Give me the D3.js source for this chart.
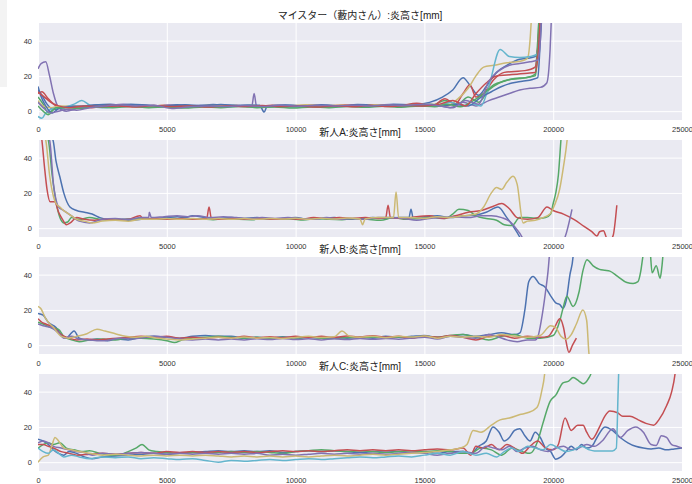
<!DOCTYPE html>
<html>
<head>
<meta charset="utf-8">
<script src="https://cdn.jsdelivr.net/npm/d3@7"></script>
<style>
  body { margin: 0; background: #fff; }
  text { font-family: "Liberation Sans", Arial, "Noto Sans CJK JP", sans-serif; }
</style>
</head>
<body>
<div id="chart"></div>
<script>
// tick values and panel titles
const xTicks = [0, 5000, 10000, 15000, 20000, 25000];
const yTicks = [0, 20, 40];
const titles = ["マイスター（藪内さん）:炎高さ[mm]", "新人A:炎高さ[mm]", "新人B:炎高さ[mm]", "新人C:炎高さ[mm]"];

// マイスター: 10 runs, [distance, flame height]
const meister = [
  [[0,12],[150,9],[350,4],[600,1],[900,2],[1300,3],[1700,2.5],[2200,3.5],[2800,4],[3400,3],[4000,3.5],[4700,2.8],[5400,3.6],[6100,3],[6800,3.8],[7500,3.2],[8200,3.5],[8900,2.8],[9600,3.4],[10300,3],[11000,3.6],[11700,3],[12400,3.8],[13100,3.4],[13800,4],[14500,3.6],[15200,5],[15700,8],[16100,12],[16500,19],[16800,14],[17100,9],[17400,14],[17800,22],[18200,26],[18600,29],[19000,30],[19300,31],[19450,40],[19550,60]],
  [[0,8],[200,4],[400,-1],[600,1],[900,2.5],[1400,2],[2000,3],[2700,2.5],[3300,3.2],[4000,2.6],[4800,3],[5500,2.4],[6200,3],[6900,2.5],[7600,3.2],[8300,2.6],[9000,3],[9700,2.4],[10400,3],[11100,2.6],[11800,3.2],[12500,2.8],[13200,3.4],[13900,2.8],[14600,4],[15300,3.5],[15800,6],[16300,4],[16700,8],[17100,5],[17500,12],[17900,16],[18300,18],[18700,18.5],[19100,19.5],[19300,21],[19400,40],[19480,60]],
  [[0,10],[150,11],[400,7],[700,3],[1000,2],[1500,2.5],[2100,2],[2800,3.5],[3500,3],[4200,2.6],[4900,3.4],[5600,2.8],[6300,3],[7000,2.6],[7700,3.2],[8400,2.7],[9100,3.3],[9800,2.8],[10500,3.4],[11200,2.9],[11900,3.5],[12600,3],[13300,3.6],[14000,3],[14700,4.5],[15300,3],[15800,7],[16200,4],[16500,10],[16770,15],[17000,8],[17300,10],[17700,18],[18100,22],[18500,22.5],[18900,23],[19300,25],[19420,40],[19500,60]],
  [[0,24],[120,27],[300,28],[450,20],[600,10],[800,2],[1100,0],[1500,1.5],[2100,2.5],[2700,3],[3300,4],[3900,3],[4500,2.5],[5100,3.5],[5700,2.8],[6300,3.2],[7000,2.6],[7700,3],[8300,2.8],[8390,10],[8480,3],[9100,2.6],[9800,3.2],[10500,2.8],[11200,3.4],[11900,2.8],[12600,3.4],[13300,2.9],[14000,3.6],[14700,3],[15400,3.5],[16000,2],[16500,5],[17000,3],[17500,6],[17900,8],[18300,10],[18700,12],[19100,13],[19500,13.5],[19750,16],[19880,35],[19950,60]],
  [[0,6],[200,3],[500,2],[900,3],[1400,2.6],[2000,3],[2700,2.4],[3400,3],[4100,2.8],[4800,3.2],[5500,2.5],[6200,3],[6900,3.4],[7600,2.8],[8300,3.2],[9000,2.6],[9700,3],[10400,3.6],[11100,3],[11800,3.4],[12500,2.8],[13200,3.6],[13900,3],[14600,3.4],[15300,4],[15900,3],[16300,7],[16700,13],[17000,20],[17300,25],[17700,26],[18200,27.5],[18600,28],[19000,30],[19100,40],[19180,60]],
  [[0,-3],[150,-4],[300,-1],[600,1.5],[1000,2],[1400,4],[1700,6],[2000,3.5],[2500,2],[3100,2.5],[3700,3],[4400,2.4],[5100,2.8],[5800,2.2],[6500,2.8],[7200,2.4],[7900,3],[8600,2.2],[9300,2.8],[10000,2.2],[10700,2.8],[11400,2.4],[12100,3],[12800,2.5],[13500,3],[14200,2.6],[14900,3.5],[15500,3],[16000,5],[16500,3],[16900,4],[17200,3],[17500,14],[17940,35],[18300,31],[18700,30.5],[19100,31],[19350,32],[19500,45],[19600,60]],
  [[0,14],[100,9],[300,3],[550,-1],[800,1.5],[1200,2.5],[1800,3],[2400,3.6],[3000,3.2],[3600,4],[4300,3.4],[5000,3],[5700,3.6],[6400,3.2],[7100,3.8],[7800,3.1],[8600,3.4],[8780,-0.5],[8900,3],[9600,3.5],[10300,2.9],[11000,3.3],[11700,2.8],[12400,3.5],[13100,3],[13800,3.6],[14500,3],[15200,4],[15700,3],[16200,4],[16700,3],[17200,8],[17600,11],[18000,14],[18400,16],[18800,17],[19200,18],[19400,19],[19500,40],[19580,60]],
  [[0,3],[200,0],[400,-2],[700,2],[1100,2],[1600,1.5],[2200,2.5],[2900,2],[3600,2.6],[4300,2],[5000,2.4],[5700,1.8],[6400,2.4],[7100,2],[7800,2.6],[8500,2],[9200,2.4],[9900,1.8],[10600,2.4],[11300,2],[12000,2.6],[12700,2.2],[13400,2.8],[14100,2.2],[14800,3],[15400,2.5],[15900,4],[16400,2.5],[16900,6],[17300,10],[17700,15],[18100,17],[18500,18.5],[18900,19],[19300,20],[19400,35],[19460,60]],
  [[0,11],[250,8],[500,5],[800,3],[1200,2],[1800,3],[2400,2.5],[3100,3],[3800,2.4],[4500,3.2],[5200,2.6],[5900,3],[6600,2.4],[7300,3],[8000,2.6],[8700,3.2],[9400,2.6],[10100,3],[10800,2.4],[11500,3],[12200,2.5],[12900,3.2],[13600,2.6],[14300,3.2],[15000,3],[15600,4],[16100,6],[16600,3],[17000,10],[17400,16],[17800,20],[18200,20.5],[18600,21],[19000,21.5],[19300,22],[19450,40],[19520,60]],
  [[0,5],[200,2],[500,-1],[800,0],[1100,1],[1500,0.5],[2000,2],[2600,3],[3200,3.6],[3800,3],[4500,3.4],[5200,1.5],[5900,2.5],[6600,3],[7300,2.6],[8000,3.2],[8700,2.7],[9400,3.3],[10100,2.8],[10800,3.4],[11500,2.9],[12200,3.4],[12900,3],[13600,3.6],[14300,3.2],[15000,4],[15600,3],[16100,2],[16600,6],[17100,4],[17500,17],[17900,23],[18300,26],[18700,27],[19100,28],[19400,29],[19500,40],[19560,60]]
];

// 新人A: 5 runs
const shinjinA = [
  [[0,60],[580,50],[700,38],[850,29],[1000,20],[1240,12],[1500,10],[1800,9],[2100,8],[2400,6],[2700,5],[3000,5],[3500,4.5],[4000,5],[4500,5.5],[5000,6],[5400,6.5],[5700,6],[6000,7],[6500,6],[7000,5.5],[7500,6],[8000,5.5],[8500,6],[9000,5],[9500,5.5],[10000,6],[10500,5],[11000,5.5],[11500,6],[12000,5],[12500,5.5],[13000,6],[13500,5.5],[14000,6],[14400,6],[14480,10.7],[14560,6],[15000,6.5],[15500,7],[16000,6],[16500,7],[17000,7.5],[17400,9],[17860,12],[18200,6],[18450,1],[18700,-5],[18800,-8]],
  [[0,60],[400,50],[550,30],[700,15],[850,6],[1000,3],[1150,3.5],[1300,6],[1600,5],[2000,6],[2400,5],[2800,4.5],[3300,5],[3800,5.5],[4300,5],[4800,5],[5300,5.5],[5800,5],[6300,5.2],[6800,4.8],[7300,5.5],[7800,5],[8300,4.8],[8800,5.5],[9300,5],[9800,5.2],[10300,4.6],[10800,5.5],[11300,5],[11800,4.8],[12300,5.5],[12800,5],[13300,4.5],[13800,6],[14300,5],[14800,5.5],[15300,6],[15800,5.5],[16100,8],[16340,10.7],[16700,10],[17000,7],[17400,5.5],[17800,4.5],[18100,2],[18400,1.5],[18700,6],[19000,6],[19400,5.5],[19700,6],[19900,8],[20000,14],[20100,20],[20200,30],[20300,50],[20350,60]],
  [[0,60],[150,50],[250,35],[350,22],[470,15],[650,15],[800,9],[950,5],[1100,2],[1250,3],[1500,6],[1800,5],[2200,4.5],[2600,5],[3000,4.5],[3500,5],[3960,7],[4100,5],[4600,5.5],[5100,5],[5600,5.5],[6100,5],[6550,5.5],[6640,12],[6730,5.5],[7200,5],[7700,5.5],[8200,5],[8700,5.5],[9200,5],[9700,5.5],[10200,5],[10700,6],[11200,5.5],[11700,6],[12200,5.5],[12700,6],[13200,5.5],[13500,6],[13590,13],[13680,6],[14200,5.5],[14700,6.5],[15200,7],[15700,5.5],[16200,7],[16700,9],[17200,10],[17600,12],[18000,14],[18300,11],[18600,6],[19000,5],[19400,6],[19760,12],[20000,10],[20400,8],[20800,5],[21200,1],[21500,-2],[21700,-4.5],[21800,-2],[21950,-1.5],[22100,-6],[22250,-6],[22330,-4],[22470,13]],
  [[0,60],[450,50],[600,25],[800,12],[1000,10],[1300,7],[1600,4],[2000,3],[2500,5],[3000,5.5],[3500,5],[4000,6],[4300,6],[4320,9],[4400,6],[4900,6.5],[5400,7],[5800,6.5],[6200,7],[6700,6],[7200,6.5],[7700,6],[8200,5.5],[8700,6],[9200,5.5],[9700,6],[10200,5.5],[10700,5],[11200,6],[11700,5],[12200,5.5],[12700,5],[13200,6],[13700,6],[14200,5.5],[14700,4.5],[15200,5.5],[15700,6],[16200,6.5],[16700,6],[17200,7],[17600,7],[18000,6],[18300,4],[18550,0],[18790,-5],[18850,-7],[19000,null],[20400,-7],[20460,-5],[20730,10.7]],
  [[0,60],[300,50],[450,30],[600,18],[700,14],[850,12],[1000,10],[1200,8],[1500,5],[1800,4],[2100,3],[2500,4],[3000,4.5],[3500,4],[4000,5],[4500,5],[5000,5.5],[5500,5],[6000,5.5],[6500,5],[7000,5.5],[7500,5],[8000,5.5],[8500,5],[9000,5.5],[9500,5.2],[10000,5.6],[10500,5],[11000,5.6],[11500,5.2],[12000,5.8],[12500,5.2],[12600,2],[12700,5.2],[13200,6],[13800,6],[13900,20.5],[14000,6],[14500,6],[15000,5.5],[15500,6.5],[16000,6],[16500,7],[17000,8],[17300,12],[17600,20],[17800,23],[18000,22],[18200,26],[18440,29.5],[18600,25],[18830,3],[19000,4],[19300,4.5],[19600,6],[19870,8],[20050,13],[20250,22],[20400,35],[20540,50],[20600,60]]
];

// 新人B: 5 runs
const shinjinB = [
  [[0,18],[200,17],[400,13],[700,10],[900,6],[1100,4],[1300,7],[1400,8],[1600,4],[1900,3],[2300,3.5],[2700,2.5],[3100,3.5],[3500,3],[4000,4.5],[4500,5],[5000,4.5],[5500,4],[6000,5],[6500,5.5],[7000,5],[7500,5],[8000,4],[8500,4.5],[9000,4],[9500,4.8],[10000,4.2],[10500,4.6],[11000,4],[11500,4.5],[12000,4],[12500,4.6],[13000,4],[13500,5],[14000,4.5],[14500,5],[15000,5.5],[15500,4.5],[16000,5],[16500,6],[17000,5],[17500,6],[18000,7],[18500,6],[18710,7],[18900,20],[19050,36],[19220,39],[19450,35],[19680,33],[19900,28],[20100,24],[20260,23],[20380,21],[20500,25],[20650,40],[20770,50],[20820,60]],
  [[0,13],[200,12],[500,10],[800,9],[1000,5],[1300,3],[1600,2],[2000,3],[2500,3.5],[3000,3],[3500,4],[4000,4],[4500,3.5],[5000,2.5],[5300,1.5],[5600,3],[6000,4],[6500,4.5],[7000,5],[7500,4.5],[8000,4],[8500,4.5],[9000,4],[9500,4.5],[10000,3.5],[10500,4.5],[11000,4],[11500,3.8],[12000,4.4],[12500,4],[13000,4.6],[13500,4],[14000,4.6],[14500,4.4],[15000,5],[15500,4.5],[16000,5.5],[16500,6],[17000,4.5],[17500,3],[18000,5],[18500,6],[19000,4],[19500,4],[20000,5.5],[20260,14],[20400,22],[20530,27.8],[20770,22],[21000,30],[21150,42],[21310,48.5],[21550,45],[21800,43],[22000,42.5],[22200,42],[22500,39],[22860,35.5],[23100,35],[23290,36],[23400,42],[23490,51],[23600,58],[23750,55],[23840,41],[24000,45],[24150,38],[24200,42],[24260,51],[24300,60]],
  [[0,15],[150,13],[300,12],[600,10],[900,6],[1200,4],[1500,3],[1900,3.5],[2300,3],[2700,3.5],[3100,4],[3500,4.5],[4000,5],[4500,4.5],[5000,5],[5500,4],[6000,4.5],[6500,4],[7000,4.5],[7500,4],[8000,5],[8500,4.2],[9000,4.8],[9500,4.2],[10000,5],[10500,4.4],[11000,5],[11500,4.4],[12000,5.2],[12500,4.6],[13000,5.4],[13500,4.5],[14000,5],[14500,4],[15000,5],[15500,4.5],[16000,5.5],[16500,4.5],[17000,3],[17500,5],[18000,5.5],[18500,4],[19000,5],[19500,4.5],[19800,5],[20050,10],[20260,15],[20400,10],[20500,2],[20610,-4],[20750,0],[20900,4]],
  [[0,12],[200,11],[500,10],[800,7],[1000,4],[1300,5],[1600,3.5],[2000,3],[2400,2.5],[2800,3],[3200,4],[3600,3.5],[4000,4],[4500,5],[5000,4.5],[5500,3.5],[6000,3],[6500,3.5],[7000,3],[7500,3.5],[8000,3],[8500,3.6],[9000,3.2],[9500,3.8],[10000,3.2],[10500,3.6],[11000,3],[11500,3.6],[12000,3.2],[12500,3.8],[13000,3.3],[13500,3.8],[14000,3.4],[14500,4],[15000,4.5],[15500,3.5],[16000,5],[16500,4.5],[17000,4],[17500,6],[17800,5],[18200,3],[18600,2],[19000,3],[19300,3],[19410,5],[19550,15],[19700,30],[19800,42],[19880,55],[19950,60]],
  [[0,22],[100,21],[300,15],[600,10],[900,5],[1200,4],[1500,5],[1900,6.5],[2290,9],[2600,8],[3000,6.5],[3400,5],[3800,4.5],[4200,5],[4600,4],[5000,3.5],[5500,3],[6000,3.5],[6500,4],[7000,4.5],[7500,4],[8000,4.6],[8500,4],[9000,4.4],[9500,3.8],[10000,4.4],[10500,5],[11000,4.4],[11500,4.8],[11800,8],[12100,5],[12500,4.5],[13000,5],[13500,4.2],[14000,5],[14500,4.6],[15000,5.2],[15500,4],[16000,5],[16500,4.5],[17000,5],[17500,4.5],[18000,6],[18500,5],[19000,4.5],[19500,5.5],[19900,11],[20100,10],[20300,5],[20500,3.4],[20700,6],[20900,12],[21150,20],[21300,14],[21390,-5],[21420,-8]]
];

// 新人C: 6 runs
const shinjinC = [
  [[0,13],[200,12],[400,10],[600,7],[800,5],[1000,4],[1200,6],[1500,5],[1800,3],[2100,2],[2500,3],[3000,3.5],[3500,4],[4000,4.5],[4500,5],[5000,4.5],[5500,5],[6000,5.5],[6500,6],[7000,6.5],[7500,6],[8000,6.5],[8500,6],[9000,6.5],[9500,5.5],[10000,6],[10500,6.5],[11000,6],[11500,6.5],[12000,6],[12500,5.5],[13000,6],[13500,6.5],[14000,6],[14500,5.5],[15000,6],[15500,5],[16000,6],[16500,6],[16800,5],[17100,9],[17400,12],[17660,20],[17900,17],[18100,12],[18300,14],[18500,18],[18700,19],[18900,15],[19100,12],[19300,17],[19500,14],[19700,8],[19900,6],[20100,1.7],[20300,3],[20500,6],[20700,9],[20900,7],[21100,10],[21300,8],[21500,9],[21700,14],[22010,20],[22300,18],[22600,14],[22900,11],[23200,9],[23500,8],[23800,7.5],[24100,8],[24400,7],[24700,7.5],[25000,8]],
  [[0,8],[200,10],[400,11],[600,10],[850,11],[1100,8],[1400,7],[1700,6],[2000,6.5],[2400,5],[2800,4],[3200,4.5],[3500,6],[3800,8],[4040,10],[4300,7],[4600,6],[5000,5.5],[5500,5],[6000,5.5],[6500,5],[7000,5.5],[7500,6],[8000,5.5],[8500,6],[9000,5.5],[9500,5],[10000,6],[10500,6.5],[11000,7],[11500,6.5],[12000,6],[12500,6.5],[13000,6],[13500,5.5],[14000,6],[14500,6.5],[15000,6],[15500,6.5],[16000,6],[16400,5],[16800,5],[17200,8],[17600,7],[18000,4],[18400,8],[18800,6],[19100,5],[19400,12],[19600,22],[19880,34.5],[20100,38],[20380,45],[20600,46],[20770,48],[21000,46],[21160,44.5],[21350,47],[21500,52],[21550,60]],
  [[0,10],[200,10],[400,9],[600,8],[900,6],[1200,5],[1500,4],[2000,4.5],[2500,5],[3000,4.5],[3500,5],[4000,5.5],[4500,5],[5000,6],[5500,5.5],[6000,6],[6500,5.5],[7000,6],[7500,5.5],[8000,6],[8500,5.5],[9000,6],[9500,6.5],[10000,6],[10500,6.5],[11000,6],[11500,6.5],[12000,7],[12500,6.5],[13000,7],[13500,6.5],[14000,7],[14500,6.5],[15000,7],[15500,7.5],[16000,7],[16500,8],[16800,4],[17000,9],[17300,8],[17600,10],[17900,7],[18200,10],[18500,8],[18800,5],[19100,9],[19400,12],[19700,8],[20000,7],[20200,10],[20460,25],[20700,18],[20950,21],[21160,21],[21300,17],[21500,13],[21800,20],[22000,26],[22200,29],[22500,28],[22700,26],[22980,26],[23300,24],[23600,22],[23900,21],[24100,24],[24400,32],[24600,40],[24730,50],[24800,60]],
  [[0,11],[200,12],[400,11],[600,9],[900,8],[1200,7],[1500,6],[1800,5.5],[2100,4],[2500,5],[3000,4.5],[3500,5],[4000,5.5],[4500,5],[5000,4.5],[5500,5],[6000,4.5],[6500,5],[7000,4.5],[7500,5],[8000,4.5],[8500,5],[9000,4],[9500,4.5],[10000,4],[10500,4.5],[11000,5],[11500,4.5],[12000,5],[12500,4.5],[13000,5],[13500,4.5],[14000,5],[14500,5.5],[15000,5],[15500,4],[16000,5],[16500,6],[17000,5],[17400,9],[17700,8],[18000,7],[18300,9],[18600,6],[18900,8],[19200,9],[19500,7],[19800,6],[20100,8],[20400,9],[20700,7],[21000,8],[21300,10],[21600,9],[21900,12],[22320,19],[22600,14],[22900,18],[23200,20],[23500,17],[23800,10],[24000,9.5],[24200,15],[24400,14],[24600,10],[24800,9],[25000,8]],
  [[0,0],[200,3],[400,4],[550,10],[660,14],[800,12],[1000,8],[1300,7],[1600,6],[2000,5],[2500,4],[3000,4.5],[3500,4],[4000,3.5],[4500,4],[5000,3.5],[5500,4],[6000,3.5],[6500,4],[7000,3.5],[7500,3],[8000,3.5],[8500,3],[9000,3.5],[9500,3],[10000,3.5],[10500,3],[11000,3.5],[11500,4],[12000,3.5],[12500,4],[13000,4.5],[13500,4],[14000,4.5],[14500,5],[15000,5.5],[15500,6],[16000,7],[16400,8],[16650,10],[16890,18],[17200,17],[17600,21],[17940,24],[18300,25],[18710,27],[19000,28],[19370,31],[19550,40],[19680,52],[19720,60]],
  [[0,8],[200,6],[400,5],[600,7],[800,5],[1000,3],[1300,4],[1600,3],[2000,2],[2500,3],[3000,2.5],[3500,3],[4000,2],[4500,2.5],[5000,2],[5500,1.5],[6000,2],[6500,1],[7000,0],[7500,1],[8000,0.5],[8500,1],[9000,1.5],[9500,1],[10000,1.5],[10500,2],[11000,1.5],[11500,2],[12000,2.5],[12500,3],[13000,2.5],[13500,3],[14000,3.5],[14500,3],[15000,4],[15500,5],[16000,4],[16500,6],[17000,4],[17400,5],[17800,3],[18100,6],[18400,8],[18700,6],[19000,9],[19300,8],[19600,7],[19900,10],[20200,8],[20500,6],[20800,7],[21100,9],[21400,7],[21600,6.4],[22000,6.4],[22300,6.4],[22450,8],[22520,40],[22560,60]]
];

const panels = [meister, shinjinA, shinjinB, shinjinC];
const colors = ["#4C72B0", "#55A868", "#C44E52", "#8172B2", "#CCB974", "#64B5CD"];

const W = 692, H = 484;
const left = 38, plotW = 644, plotH = 97;
const tops = [23, 140, 257, 374];

const svg = d3.select("#chart").append("svg")
    .attr("width", W)
    .attr("height", H);

// leftover grey strip at the top-left corner
svg.append("rect")
    .attr("x", 0).attr("y", 0)
    .attr("width", 7).attr("height", 87)
    .attr("fill", "#f3f3f3");

const x = d3.scaleLinear().domain([0, 25000]).range([0, plotW]);
const y = d3.scaleLinear().domain([-5, 50]).range([plotH, 0]);

const line = d3.line()
    .defined(d => d[1] != null)
    .x(d => x(d[0]))
    .y(d => y(d[1]))
    .curve(d3.curveMonotoneX);

panels.forEach((series, i) => {
    const g = svg.append("g")
        .attr("transform", `translate(${left},${tops[i]})`);

    g.append("rect")
        .attr("width", plotW)
        .attr("height", plotH)
        .attr("fill", "#EAEAF2");

    // x grid + labels
    const gx = g.append("g")
        .attr("transform", `translate(0,${plotH})`)
        .call(d3.axisBottom(x).tickValues(xTicks).tickFormat(d3.format("d")).tickSize(-plotH).tickPadding(6.5));
    // y grid + labels
    const gy = g.append("g")
        .call(d3.axisLeft(y).tickValues(yTicks).tickSize(-plotW).tickPadding(6));

    [gx, gy].forEach(a => {
        a.select(".domain").remove();
        a.selectAll(".tick line").attr("stroke", "#fff").attr("stroke-width", 1);
        a.selectAll(".tick text")
            .attr("fill", "#333")
            .style("font-size", "7.5px")
            .style("font-family", "'Liberation Sans', Arial, sans-serif");
    });

    g.append("clipPath")
        .attr("id", `clip${i}`)
      .append("rect")
        .attr("width", plotW)
        .attr("height", plotH);

    g.append("g")
        .attr("clip-path", `url(#clip${i})`)
      .selectAll("path")
      .data(series)
      .enter()
      .append("path")
        .attr("d", line)
        .attr("fill", "none")
        .attr("stroke", (d, j) => colors[j % colors.length])
        .attr("stroke-width", 1.5)
        .attr("stroke-linejoin", "round");

    svg.append("text")
        .attr("x", left + plotW / 2)
        .attr("y", tops[i] - 4)
        .attr("text-anchor", "middle")
        .attr("fill", "#222")
        .style("font-size", "10px")
        .text(titles[i]);
});
</script>
</body>
</html>
